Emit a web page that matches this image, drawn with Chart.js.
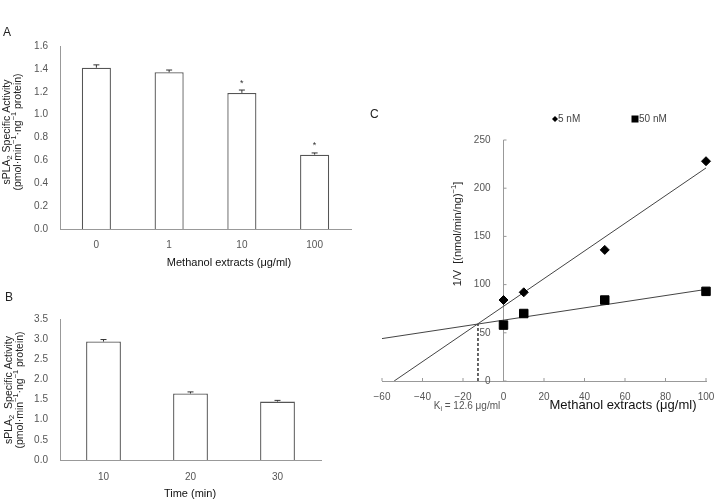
<!DOCTYPE html>
<html>
<head>
<meta charset="utf-8">
<script src="https://cdn.jsdelivr.net/npm/chart.js"></script>
<style>
body { margin: 0; background: #fff; width: 720px; height: 502px; position: relative; overflow: hidden; }
canvas { position: absolute; }
#chartA { left: 0; top: 0; }
#chartB { left: 0; top: 275px; }
#chartC { left: 360px; top: 100px; }
</style>
</head>
<body>
<canvas id="chartA" width="360" height="275"></canvas>
<canvas id="chartB" width="360" height="227"></canvas>
<canvas id="chartC" width="360" height="330"></canvas>
<script>
// Panel A - dose response
const doseLabels = ['0', '1', '10', '100'];
const doseActivity = [1.41, 1.37, 1.19, 0.65];
const doseError = [0.025, 0.02, 0.025, 0.015];
const doseSignificant = [false, false, true, true];

// Panel B - time course
const timeLabels = ['10', '20', '30'];
const timeActivity = [2.94, 1.65, 1.45];
const timeError = [0.05, 0.04, 0.03];

// Panel C - Dixon plot
const extractConc = [0, 10, 50, 100];
const inv5nM = [84, 92, 136, 228];
const inv50nM = [58, 70, 84, 93];
const fit5nMX = [-54, 100];
const fit5nMY = [0, 221];
const fit50nMX = [-60, 100];
const fit50nMY = [44, 95];
const kiX = -12.6;
const kiY = 59;

const FONT = "'Liberation Sans', Arial, sans-serif";
const TICK_COLOR = '#555';
Chart.defaults.font.family = FONT;

// texto com sub/sobrescrito
function fontFor(s, size) {
    const sz = (s.sub || s.sup) ? size * 0.7 : size;
    return sz + 'px ' + FONT;
}
function richWidth(ctx, segs, size) {
    let w = 0;
    segs.forEach(s => { ctx.font = fontFor(s, size); w += ctx.measureText(s.t).width; });
    return w;
}
function drawRich(ctx, segs, x, y, size, color) {
    ctx.save();
    ctx.fillStyle = color;
    ctx.textBaseline = 'middle';
    ctx.textAlign = 'left';
    let cx = x - richWidth(ctx, segs, size) / 2;
    segs.forEach(s => {
        ctx.font = fontFor(s, size);
        const dy = s.sub ? size * 0.3 : (s.sup ? -size * 0.35 : 0);
        ctx.fillText(s.t, cx, y + dy);
        cx += ctx.measureText(s.t).width;
    });
    ctx.restore();
}
function drawRotated(ctx, segs, x, y, size, color) {
    ctx.save();
    ctx.translate(x, y);
    ctx.rotate(-Math.PI / 2);
    drawRich(ctx, segs, 0, 0, size, color);
    ctx.restore();
}

const activityLine1 = [{t: 'sPLA'}, {t: '2', sub: true}, {t: ' Specific Activity'}];
const activityLine1b = [{t: 'sPLA'}, {t: '2', sub: true}, {t: '  Specific Activity'}];
const activityLine2 = [{t: '(pmol·min'}, {t: '−1', sup: true}, {t: '·ng'}, {t: '−1', sup: true}, {t: ' protein)'}];

function makeErrorBars(errors, stars) {
    return {
        id: 'errorBars',
        afterDatasetsDraw(chart) {
            const ctx = chart.ctx;
            const xs = chart.scales.x, ys = chart.scales.y;
            const values = chart.data.datasets[0].data;
            ctx.save();
            ctx.strokeStyle = '#333';
            ctx.lineWidth = 1;
            values.forEach((v, i) => {
                const x = xs.getPixelForValue(i);
                const yTop = ys.getPixelForValue(v);
                const yErr = ys.getPixelForValue(v + errors[i]);
                ctx.beginPath();
                ctx.moveTo(x, yTop);
                ctx.lineTo(x, yErr);
                ctx.moveTo(x - 3, yErr);
                ctx.lineTo(x + 3, yErr);
                ctx.stroke();
                if (stars && stars[i]) {
                    ctx.fillStyle = '#333';
                    ctx.font = '9px ' + FONT;
                    ctx.textAlign = 'center';
                    ctx.textBaseline = 'middle';
                    ctx.fillText('*', x, yErr - 7);
                }
            });
            ctx.restore();
        }
    };
}

function barScales(maxY, step, xPad, xHeight) {
    return {
        x: {
            grid: {display: false, drawTicks: false},
            border: {color: '#999'},
            ticks: {color: TICK_COLOR, font: {size: 10}, padding: xPad},
            afterFit: s => { s.height = xHeight; }
        },
        y: {
            min: 0, max: maxY,
            grid: {display: false, drawTicks: false},
            border: {color: '#999'},
            ticks: {stepSize: step, color: TICK_COLOR, font: {size: 10}, padding: 12, callback: v => v.toFixed(1)},
            afterFit: s => { s.width = 60; }
        }
    };
}

// Painel A
new Chart(document.getElementById('chartA'), {
    type: 'bar',
    data: {
        labels: doseLabels,
        datasets: [{
            data: doseActivity,
            backgroundColor: '#fff',
            borderColor: '#555',
            borderWidth: 1.3,
            barPercentage: 0.4,
            categoryPercentage: 1
        }]
    },
    options: {
        responsive: false,
        animation: false,
        layout: {padding: {top: 46, right: 9, left: 0, bottom: 0}},
        plugins: {legend: {display: false}, tooltip: {enabled: false}},
        scales: barScales(1.6, 0.2, 10, 46)
    },
    plugins: [makeErrorBars(doseError, doseSignificant), {
        id: 'panelA',
        afterDraw(chart) {
            const ctx = chart.ctx;
            ctx.save();
            ctx.fillStyle = '#222';
            ctx.font = '12px ' + FONT;
            ctx.textBaseline = 'middle';
            ctx.fillText('A', 3, 33);
            ctx.restore();
            drawRotated(ctx, activityLine1, 7, 132, 10.5, '#222');
            drawRotated(ctx, activityLine2, 18, 132, 10.5, '#222');
            drawRich(ctx, [{t: 'Methanol extracts (μg/ml)'}], 229, 263, 11, '#111');
        }
    }]
});

// Painel B
new Chart(document.getElementById('chartB'), {
    type: 'bar',
    data: {
        labels: timeLabels,
        datasets: [{
            data: timeActivity,
            backgroundColor: '#fff',
            borderColor: '#555',
            borderWidth: 1.3,
            barPercentage: 0.4,
            categoryPercentage: 1
        }]
    },
    options: {
        responsive: false,
        animation: false,
        layout: {padding: {top: 44, right: 39, left: 0, bottom: 0}},
        plugins: {legend: {display: false}, tooltip: {enabled: false}},
        scales: barScales(3.5, 0.5, 11, 42)
    },
    plugins: [makeErrorBars(timeError, null), {
        id: 'panelB',
        afterDraw(chart) {
            const ctx = chart.ctx;
            ctx.save();
            ctx.fillStyle = '#222';
            ctx.font = '12px ' + FONT;
            ctx.textBaseline = 'middle';
            ctx.fillText('B', 5, 23);
            ctx.restore();
            drawRotated(ctx, activityLine1b, 9, 115, 10.5, '#222');
            drawRotated(ctx, activityLine2, 20, 115, 10.5, '#222');
            drawRich(ctx, [{t: 'Time (min)'}], 190, 219, 11, '#111');
        }
    }]
});

// Painel C
const toPoints = (xs, ys) => xs.map((x, i) => ({x: x, y: ys[i]}));

new Chart(document.getElementById('chartC'), {
    type: 'scatter',
    data: {
        datasets: [
            {
                label: '5 nM',
                data: toPoints(extractConc, inv5nM),
                pointStyle: 'rectRot',
                pointRadius: 4.5,
                backgroundColor: '#000',
                borderColor: '#000',
                clip: false,
                order: 1
            },
            {
                label: '50 nM',
                data: toPoints(extractConc, inv50nM),
                pointStyle: 'rect',
                pointRadius: 6,
                backgroundColor: '#000',
                borderColor: '#000',
                clip: false,
                order: 1
            },
            {
                type: 'line',
                data: toPoints(fit5nMX, fit5nMY),
                borderColor: '#444',
                borderWidth: 1,
                pointRadius: 0,
                fill: false,
                order: 2
            },
            {
                type: 'line',
                data: toPoints(fit50nMX, fit50nMY),
                borderColor: '#444',
                borderWidth: 1,
                pointRadius: 0,
                fill: false,
                order: 2
            },
            {
                type: 'line',
                data: [{x: kiX, y: 0}, {x: kiX, y: kiY}],
                borderColor: '#000',
                borderWidth: 1.2,
                borderDash: [3, 2],
                pointRadius: 0,
                fill: false,
                order: 2
            }
        ]
    },
    options: {
        responsive: false,
        animation: false,
        layout: {padding: {top: 40, right: 14, left: 22, bottom: 0}},
        plugins: {legend: {display: false}, tooltip: {enabled: false}},
        scales: {
            x: {
                type: 'linear',
                min: -60, max: 100,
                grid: {display: false, drawTicks: false},
                border: {color: '#999'},
                ticks: {
                    stepSize: 20, color: TICK_COLOR, font: {size: 10}, padding: 10,
                    callback: v => v < 0 ? '−' + Math.abs(v) : String(v)
                },
                afterFit: s => { s.height = 49; s.paddingLeft = 0; s.paddingRight = 0; }
            },
            y: {
                type: 'linear',
                position: {x: 0},
                min: 0, max: 250,
                grid: {display: false, drawTicks: false},
                border: {color: '#999'},
                ticks: {stepSize: 50, display: false}
            }
        }
    },
    plugins: [{
        id: 'panelC',
        afterDraw(chart) {
            const ctx = chart.ctx;
            const xs = chart.scales.x, ys = chart.scales.y;
            const area = chart.chartArea;
            const axisX = xs.getPixelForValue(0);
            // pequenas marcas nos eixos e rotulos do eixo y
            ctx.save();
            ctx.strokeStyle = '#999';
            ctx.lineWidth = 1;
            xs.ticks.forEach(t => {
                const px = xs.getPixelForValue(t.value);
                ctx.beginPath();
                ctx.moveTo(px, area.bottom);
                ctx.lineTo(px, area.bottom - 3);
                ctx.stroke();
            });
            ctx.fillStyle = TICK_COLOR;
            ctx.font = '10px ' + FONT;
            ctx.textAlign = 'right';
            ctx.textBaseline = 'middle';
            ys.ticks.forEach(t => {
                const py = ys.getPixelForValue(t.value);
                ctx.beginPath();
                ctx.moveTo(axisX, py);
                ctx.lineTo(axisX + 3, py);
                ctx.stroke();
                ctx.fillText(String(t.value), axisX - 13, py);
            });
            ctx.textAlign = 'left';
            ctx.fillStyle = '#222';
            ctx.font = '12px ' + FONT;
            ctx.fillText('C', 10, 15);

            // legenda
            const ds = chart.data.datasets;
            ctx.fillStyle = '#000';
            ctx.beginPath();
            ctx.moveTo(195, 16); ctx.lineTo(198, 19); ctx.lineTo(195, 22); ctx.lineTo(192, 19);
            ctx.closePath();
            ctx.fill();
            ctx.fillRect(271.5, 15.5, 7, 7);
            ctx.fillStyle = '#444';
            ctx.font = '10px ' + FONT;
            ctx.fillText(ds[0].label, 198, 19);
            ctx.fillText(ds[1].label, 279, 19);
            ctx.restore();

            drawRotated(ctx, [{t: '1/V  [(nmol/min/ng)'}, {t: '−1', sup: true}, {t: ']'}], 98, 134, 11, '#222');
            drawRich(ctx, [{t: 'Methanol extracts (μg/ml)'}], 263, 305, 13, '#111');
            drawRich(ctx, [{t: 'K'}, {t: 'i', sub: true}, {t: ' = 12.6 μg/ml'}], 107, 306, 10, '#555');
        }
    }]
});
</script>
</body>
</html>
